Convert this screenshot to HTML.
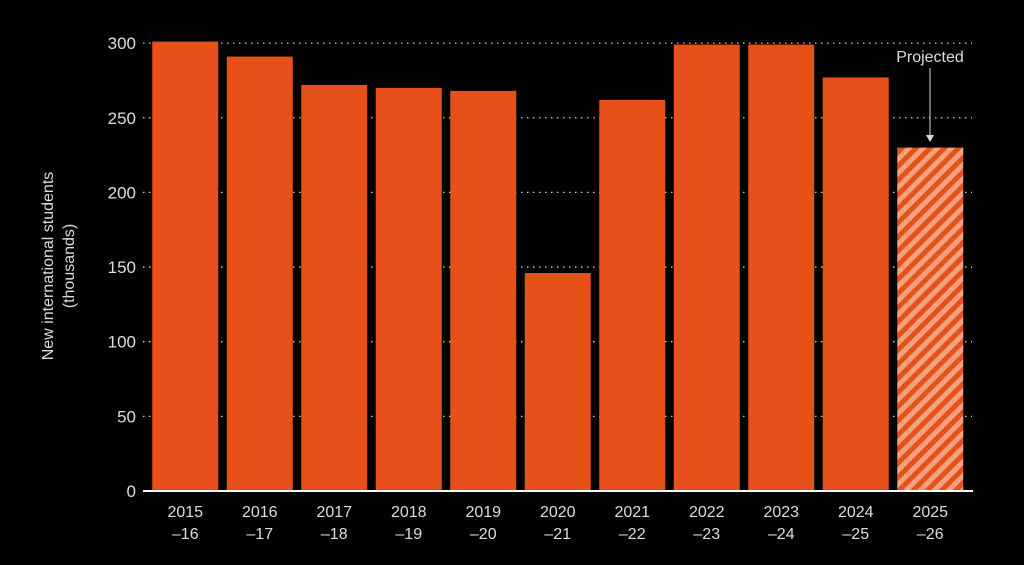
<!DOCTYPE html>
<html><head><meta charset="utf-8"><style>
body{margin:0;background:#000;width:1024px;height:565px;overflow:hidden}
svg{display:block;font-family:"Liberation Sans",sans-serif}
</style></head><body>
<svg id="chart" width="1024" height="565" xmlns="http://www.w3.org/2000/svg">
<defs>
<pattern id="hatch" patternUnits="userSpaceOnUse" width="10" height="10" patternTransform="rotate(45)">
<rect width="10" height="10" fill="#f2a27e"/>
<rect width="5" height="10" fill="#e8501a"/>
</pattern>
</defs>
<g id="grid"></g><g id="bars"></g><g id="labels"></g>
<text transform="translate(57,266) rotate(-90)" text-anchor="middle" fill="#ddd" font-size="16"><tspan x="0" dy="-4">New international students</tspan><tspan x="0" dy="21">(thousands)</tspan></text>
<text x="930" y="62" text-anchor="middle" fill="#ddd" font-size="16">Projected</text>
<line x1="930" y1="68" x2="930" y2="136" stroke="#ddd" stroke-width="1"/>
<polygon points="926,135 934,135 930,142" fill="#ddd"/>
<line x1="143" y1="491" x2="973" y2="491" stroke="#fff" stroke-width="2"/>
</svg>
<script>
const years=["2015","2016","2017","2018","2019","2020","2021","2022","2023","2024","2025"];
const endYears=["\u201316","\u201317","\u201318","\u201319","\u201320","\u201321","\u201322","\u201323","\u201324","\u201325","\u201326"];
const values=[301,291,272,270,268,146,262,299,299,277,230];
const projected=[false,false,false,false,false,false,false,false,false,false,true];
const yTicks=[0,50,100,150,200,250,300];
const NS="http://www.w3.org/2000/svg";
const y0=491,ppu=1.493,x0=148,band=74.5,bw=66;
const yS=v=>y0-v*ppu, xS=i=>x0+i*band+(band-bw)/2;
const grid=document.getElementById('grid'),bars=document.getElementById('bars'),labels=document.getElementById('labels');
function mk(t,a,p){const e=document.createElementNS(NS,t);for(const k in a)e.setAttribute(k,a[k]);p.appendChild(e);return e;}
yTicks.forEach(v=>{
 if(v>0){const l=mk('line',{x1:143,x2:972,y1:yS(v),y2:yS(v),stroke:'#ccc','stroke-width':1.3,'stroke-dasharray':'1.5 4.5'},grid);
 
 }
 const t=mk('text',{x:136,y:yS(v)+6,'text-anchor':'end',fill:'#ddd','font-size':17},labels);t.textContent=v;
 
 
});
values.forEach((v,i)=>{
 const r=mk('rect',{x:xS(i),y:yS(v),width:bw,height:y0-yS(v),fill:projected[i]?'url(#hatch)':'#e8501a'},bars);
 
 
 const cx=xS(i)+bw/2;
 const t=mk('text',{x:cx,y:517,'text-anchor':'middle',fill:'#ddd','font-size':16},labels);t.textContent=years[i];
 
 
 const t2=mk('text',{x:cx,y:539,'text-anchor':'middle',fill:'#ddd','font-size':16},labels);t2.textContent=endYears[i];
 
 
});
</script>
</body></html>
